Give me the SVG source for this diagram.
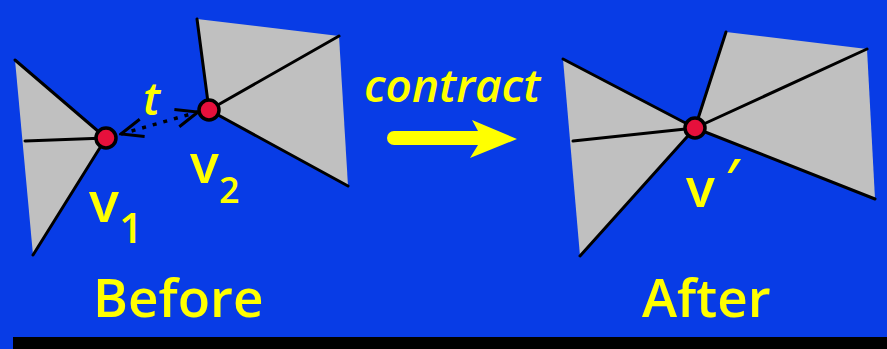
<svg xmlns="http://www.w3.org/2000/svg" width="887" height="349" viewBox="0 0 887 349">
<defs>
<style>
.face{fill:#c0c0c0;stroke:none}
.edge{stroke:#000;stroke-width:3;fill:none;stroke-linecap:round}
.vert{fill:#e6103c;stroke:#000;stroke-width:3.5}
.lbl{fill:#ffff00;font-family:"Open Sans","Noto Sans",sans-serif;font-weight:600}
.ital{font-style:italic}
</style>
<marker id="vhead" viewBox="0 0 26 22" refX="24" refY="11" markerWidth="26" markerHeight="22" markerUnits="userSpaceOnUse" orient="auto-start-reverse">
<path d="M2,2 L24,11 L2,20" fill="none" stroke="#000" stroke-width="3"/>
</marker>
</defs>
<rect x="0" y="0" width="887" height="349" fill="#083ce6"/>
<rect x="13" y="337" width="874" height="12" fill="#000"/>

<g id="before-left-fan">
<polygon class="face" points="15,60 106,138 33,255"/>
<line class="edge" x1="106" y1="138" x2="15" y2="60"/>
<line class="edge" x1="106" y1="138" x2="25" y2="141"/>
<line class="edge" x1="106" y1="138" x2="33" y2="255"/>
</g>
<g id="before-right-fan">
<polygon class="face" points="197,19 339,36 348,186 209,110"/>
<line class="edge" x1="209" y1="110" x2="197" y2="19"/>
<line class="edge" x1="209" y1="110" x2="339" y2="36"/>
<line class="edge" x1="209" y1="110" x2="348" y2="186"/>
</g>
<g id="after-left-fan">
<polygon class="face" points="563,59 695,128 580,256"/>
<line class="edge" x1="695" y1="128" x2="563" y2="59"/>
<line class="edge" x1="695" y1="128" x2="573" y2="141"/>
<line class="edge" x1="695" y1="128" x2="580" y2="256"/>
</g>
<g id="after-right-fan">
<polygon class="face" points="726,32 867,49 875,199 695,128"/>
<line class="edge" x1="695" y1="128" x2="726" y2="32"/>
<line class="edge" x1="695" y1="128" x2="867" y2="49"/>
<line class="edge" x1="695" y1="128" x2="875" y2="199"/>
</g>

<g id="connectors">
<line x1="121" y1="134" x2="198" y2="112" stroke="#000" stroke-width="3.5" stroke-dasharray="4,7" marker-start="url(#vhead)" marker-end="url(#vhead)"/>
<path id="contract-arrow" d="M394,131 L478,131 L472,120 L517,139 L470,158 L478,145 L394,145 A7,7 0 0 1 394,131 Z" fill="#ffff00"/>
</g>

<g id="v1">
<circle class="vert" cx="106" cy="138" r="10"/>
<text class="lbl" x="89" y="222" font-size="56">v</text>
<text class="lbl" x="119" y="243" font-size="42">1</text>
</g>
<g id="v2">
<circle class="vert" cx="209" cy="110" r="10"/>
<text class="lbl" x="190" y="183" font-size="54">v</text>
<text class="lbl" x="219" y="203" font-size="36">2</text>
</g>
<g id="vprime">
<circle class="vert" cx="695" cy="128" r="10"/>
<text class="lbl" x="686" y="207" font-size="54">v</text>
<text class="lbl ital" x="724" y="198" font-size="54">′</text>
</g>
<g id="t-label">
<text class="lbl ital" x="143" y="115" font-size="46">t</text>
</g>
<g id="contract-label">
<text class="lbl ital" x="364" y="102" font-size="46" font-weight="500">contract</text>
</g>
<g id="captions">
<text class="lbl" x="93" y="317" font-size="53">Before</text>
<text class="lbl" x="642" y="317" font-size="53">After</text>
</g>
</svg>
